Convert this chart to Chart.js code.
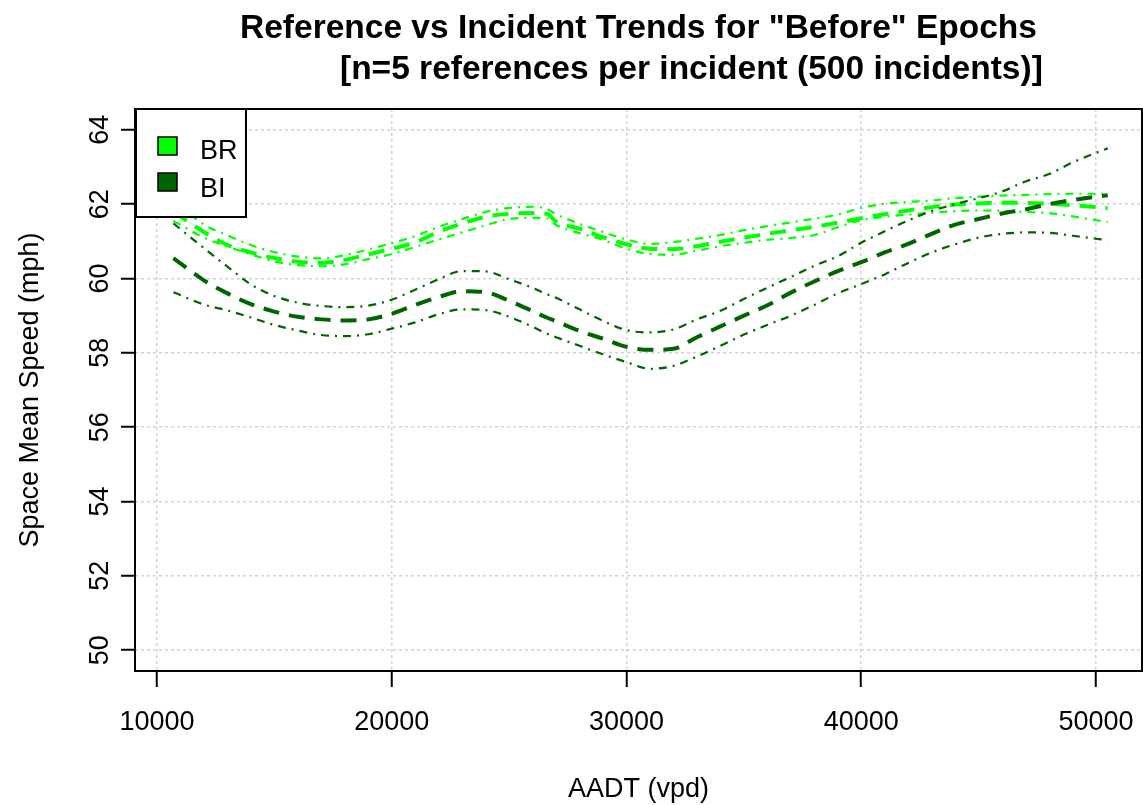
<!DOCTYPE html>
<html>
<head>
<meta charset="utf-8">
<title>Reference vs Incident Trends</title>
<script src="https://cdn.jsdelivr.net/npm/chart.js@4.4.1/dist/chart.umd.min.js"></script>
<style>
  html, body { margin: 0; padding: 0; background: #fff; }
  #wrap { width: 1143px; height: 805px; position: relative; }
</style>
</head>
<body>
<div id="wrap"><canvas id="smsChart"></canvas></div>
<script>
// AADT (vpd) positions the smoothed curves were read at
const aadt = [10700, 12000, 13000, 14000, 15000, 16000, 17000, 18000, 19000, 20000,
  21000, 22000, 23000, 24000, 25000, 26000, 26600, 27000, 28000, 29000,
  30000, 31000, 32000, 33000, 34000, 35000, 36000, 37000, 38000, 39000,
  40000, 41000, 42000, 43000, 44000, 45000, 46000, 47000, 48000, 49000,
  50000, 50500];

// BR = reference, "before" epochs
const brUpper = [62.10, 61.45, 61.16, 60.90, 60.71, 60.59, 60.54, 60.63, 60.78, 60.95,
  61.14, 61.39, 61.60, 61.79, 61.90, 61.93, 61.87, 61.73, 61.47, 61.25,
  61.05, 60.93, 60.98, 61.07, 61.17, 61.30, 61.41, 61.51, 61.61, 61.72,
  61.90, 62.01, 62.06, 62.10, 62.16, 62.20, 62.23, 62.25, 62.27, 62.28,
  62.28, 62.28];
const brMean = [61.80, 61.25, 60.90, 60.70, 60.55, 60.45, 60.42, 60.50, 60.65, 60.80,
  60.97, 61.26, 61.48, 61.66, 61.74, 61.76, 61.74, 61.53, 61.34, 61.11,
  60.92, 60.80, 60.79, 60.87, 60.99, 61.10, 61.20, 61.30, 61.39, 61.50,
  61.62, 61.73, 61.83, 61.92, 61.99, 62.02, 62.04, 62.03, 62.01, 61.97,
  61.92, 61.89];
const brLower = [61.55, 61.10, 60.86, 60.65, 60.46, 60.36, 60.33, 60.38, 60.52, 60.66,
  60.85, 61.05, 61.24, 61.43, 61.60, 61.63, 61.62, 61.44, 61.22, 61.04,
  60.80, 60.66, 60.64, 60.75, 60.87, 60.96, 61.04, 61.09, 61.17, 61.38,
  61.57, 61.66, 61.72, 61.77, 61.81, 61.83, 61.82, 61.79, 61.76, 61.67,
  61.57, 61.52];

// BI = incident, "before" epochs
const biUpper = [61.48, 60.82, 60.32, 59.84, 59.53, 59.35, 59.26, 59.23, 59.27, 59.43,
  59.70, 59.98, 60.20, 60.19, 59.98, 59.75, 59.58, 59.48, 59.17, 58.86,
  58.61, 58.55, 58.63, 58.90, 59.13, 59.45, 59.75, 60.04, 60.34, 60.60,
  60.96, 61.27, 61.56, 61.82, 62.00, 62.16, 62.34, 62.61, 62.81, 63.12,
  63.38, 63.50];
const biMean = [60.55, 59.95, 59.60, 59.31, 59.11, 58.97, 58.90, 58.87, 58.90, 59.05,
  59.29, 59.50, 59.66, 59.63, 59.40, 59.12, 58.95, 58.85, 58.59, 58.38,
  58.16, 58.08, 58.11, 58.42, 58.71, 59.00, 59.28, 59.62, 59.92, 60.20,
  60.44, 60.70, 60.93, 61.20, 61.45, 61.60, 61.75, 61.86, 62.00, 62.11,
  62.20, 62.24];
const biLower = [59.63, 59.30, 59.14, 58.95, 58.75, 58.60, 58.48, 58.45, 58.50, 58.65,
  58.82, 59.04, 59.17, 59.15, 58.97, 58.70, 58.52, 58.42, 58.19, 57.96,
  57.75, 57.57, 57.65, 57.90, 58.19, 58.49, 58.75, 59.00, 59.29, 59.60,
  59.85, 60.11, 60.42, 60.70, 60.92, 61.10, 61.20, 61.24, 61.23, 61.15,
  61.07, 61.03];

const xTicks = [10000, 20000, 30000, 40000, 50000];
const yTicks = [50, 52, 54, 56, 58, 60, 62, 64];
const legendLabels = ['BR', 'BI'];
const legendColors = ['#00ff00', '#006400'];
const titleLines = [
  'Reference vs Incident Trends for "Before" Epochs',
  '[n=5 references per incident (500 incidents)]'
];

const FONT = '"Liberation Sans", Arial, sans-serif';
const MEAN_DASH = [16, 10];
const BAND_DASH = [8, 6, 2, 6];

function series(label, values, color, isMean) {
  return {
    label: label,
    data: aadt.map((x, i) => ({x: x, y: values[i]})),
    borderColor: color,
    borderWidth: isMean ? 4 : 2.2,
    borderDash: isMean ? MEAN_DASH : BAND_DASH,
    borderCapStyle: 'butt',
    pointRadius: 0,
    fill: false,
    cubicInterpolationMode: 'monotone'
  };
}

// title, box, y tick labels and legend, drawn R style
const rDecor = {
  id: 'rDecor',
  afterDraw(chart) {
    const {ctx, chartArea: a} = chart;
    ctx.save();

    // title
    ctx.fillStyle = '#000';
    ctx.font = 'bold 33.5px ' + FONT;
    ctx.textBaseline = 'alphabetic';
    ctx.textAlign = 'center';
    ctx.fillText(titleLines[0], (a.left + a.right) / 2, 38);
    ctx.textAlign = 'left';
    ctx.fillText(titleLines[1], 340, 79);

    // plot box
    ctx.strokeStyle = '#000';
    ctx.lineWidth = 2;
    ctx.strokeRect(a.left, a.top, a.right - a.left, a.bottom - a.top);

    // y tick labels, parallel to the axis
    const ys = chart.scales.y;
    ctx.font = '27px ' + FONT;
    ctx.textAlign = 'center';
    ys.ticks.forEach(t => {
      const py = ys.getPixelForValue(t.value);
      ctx.save();
      ctx.translate(108, py);
      ctx.rotate(-Math.PI / 2);
      ctx.fillText(String(t.value), 0, 0);
      ctx.restore();
    });

    // legend
    const lx = a.left + 1, ly = a.top;
    ctx.fillStyle = '#fff';
    ctx.fillRect(lx, ly, 110, 108);
    ctx.strokeRect(lx, ly, 110, 108);
    legendLabels.forEach((lab, i) => {
      const sy = ly + 28 + i * 36;
      ctx.fillStyle = legendColors[i];
      ctx.fillRect(lx + 22, sy, 19, 18);
      ctx.lineWidth = 1.5;
      ctx.strokeStyle = '#000';
      ctx.strokeRect(lx + 22, sy, 19, 18);
      ctx.fillStyle = '#000';
      ctx.font = '27px ' + FONT;
      ctx.textAlign = 'left';
      ctx.fillText(lab, lx + 64, sy + 22 + i * 2);
    });
    ctx.restore();
  }
};

const config = {
  type: 'line',
  data: {
    datasets: [
      series('BI upper', biUpper, legendColors[1], false),
      series('BI', biMean, legendColors[1], true),
      series('BI lower', biLower, legendColors[1], false),
      series('BR upper', brUpper, legendColors[0], false),
      series('BR', brMean, legendColors[0], true),
      series('BR lower', brLower, legendColors[0], false)
    ]
  },
  options: {
    responsive: true,
    maintainAspectRatio: false,
    animation: false,
    layout: { padding: { top: 109, right: 1, left: 0, bottom: 0 } },
    plugins: {
      legend: { display: false },
      title: { display: false },
      tooltip: { enabled: false }
    },
    scales: {
      x: {
        type: 'linear',
        min: 9063,
        max: 51960,
        afterBuildTicks: s => { s.ticks = xTicks.map(v => ({value: v})); },
        afterFit: s => { s.height = 134; s.paddingLeft = 0; s.paddingRight = 0; },
        grid: {
          color: '#d3d3d3',
          lineWidth: 1.5,
          tickLength: 16,
          tickColor: '#000',
          tickWidth: 2
        },
        border: { display: false, dash: [3, 3] },
        ticks: {
          color: '#000',
          padding: 19,
          maxRotation: 0,
          font: { family: FONT, size: 27 },
          callback: v => String(v)
        },
        title: {
          display: true,
          text: 'AADT (vpd)',
          color: '#000',
          font: { family: FONT, size: 27, lineHeight: 1 },
          padding: { top: 0, bottom: 2 }
        }
      },
      y: {
        min: 49.44,
        max: 64.56,
        afterBuildTicks: s => { s.ticks = yTicks.map(v => ({value: v})); },
        afterFit: s => { s.width = 135; },
        grid: {
          color: '#d3d3d3',
          lineWidth: 1.5,
          tickLength: 14,
          tickColor: '#000',
          tickWidth: 2
        },
        border: { display: false, dash: [3, 3] },
        ticks: { display: false },
        title: {
          display: true,
          text: 'Space Mean Speed (mph)',
          color: '#000',
          font: { family: FONT, size: 27, lineHeight: 1.2 },
          padding: { top: 14, bottom: 0 }
        }
      }
    }
  },
  plugins: [rDecor]
};

new Chart(document.getElementById('smsChart'), config);
</script>
</body>
</html>
